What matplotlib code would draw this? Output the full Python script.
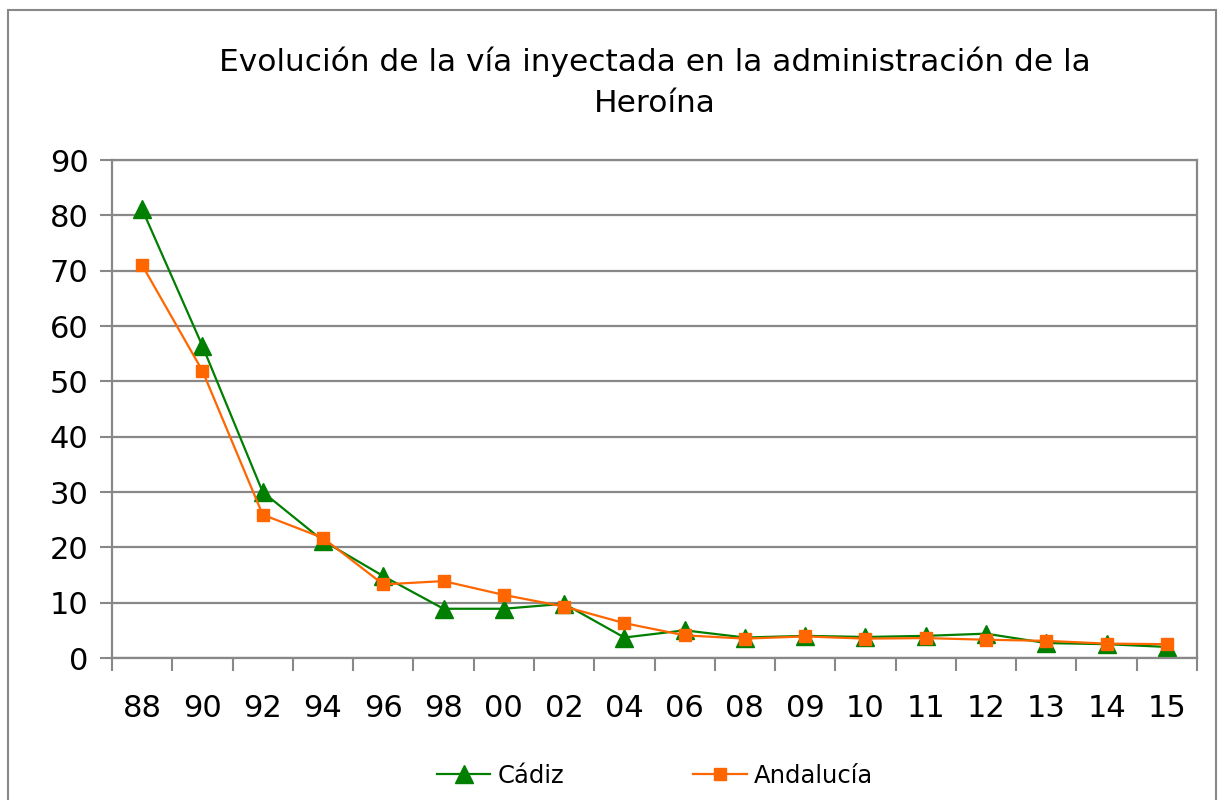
import matplotlib.pyplot as plt
from matplotlib.patches import Rectangle

years = ['88', '90', '92', '94', '96', '98', '00', '02', '04', '06',
         '08', '09', '10', '11', '12', '13', '14', '15']
cadiz = [81.1, 56.4, 30.0, 21.2, 14.8, 8.9, 8.9, 9.8, 3.7, 5.0,
         3.7, 4.0, 3.8, 4.0, 4.4, 2.7, 2.5, 2.0]
andalucia = [71.0, 51.9, 25.9, 21.7, 13.3, 13.9, 11.4, 9.3, 6.3, 4.1,
             3.5, 3.9, 3.5, 3.6, 3.3, 3.1, 2.6, 2.5]

grey = '#888888'

fig = plt.figure(figsize=(12.19, 8), dpi=100)
fig.patches.append(Rectangle((8 / 1219, -0.05), 1208 / 1219, 1.05 - 10 / 800,
                             transform=fig.transFigure, fill=False,
                             edgecolor=grey, linewidth=1.5))

ax = fig.add_axes([112 / 1219, 142 / 800, 1085 / 1219, 498 / 800])
x = range(len(years))
ax.plot(x, cadiz, color='#007F00', marker='^', markersize=13, linewidth=1.6,
        label='Cádiz')
ax.plot(x, andalucia, color='#FF6600', marker='s', markersize=8.5, linewidth=1.6,
        label='Andalucía')

ax.set_xlim(-0.5, len(years) - 0.5)
ax.set_ylim(0, 90)
ax.set_yticks(range(0, 91, 10))
ax.yaxis.grid(True, color=grey, linewidth=1.6)
ax.set_axisbelow(True)

ax.set_xticks(list(x))
ax.set_xticklabels(years)
ax.set_xticks([i - 0.5 for i in range(len(years) + 1)], minor=True)
ax.tick_params(axis='x', which='major', length=0, pad=26, labelsize=22)
ax.tick_params(axis='x', which='minor', length=9, width=1.5, color=grey)
ax.tick_params(axis='y', length=9, width=1.5, color=grey, labelsize=22, pad=8)
for s in ax.spines.values():
    s.set_color(grey)
    s.set_linewidth(1.6)

fig.text(655 / 1219, 1 - 62 / 800, 'Evolución de la vía inyectada en la administración de la',
         ha='center', va='center', fontsize=22.5)
fig.text(655 / 1219, 1 - 104 / 800, 'Heroína', ha='center', va='center', fontsize=22.5)

fig.legend(loc='center', bbox_to_anchor=(655 / 1219, 1 - 776 / 800), ncol=2,
           frameon=False, fontsize=17.5, columnspacing=5.3, handlelength=2.2,
           handletextpad=0.3)

fig.savefig('out.png', dpi=100)
